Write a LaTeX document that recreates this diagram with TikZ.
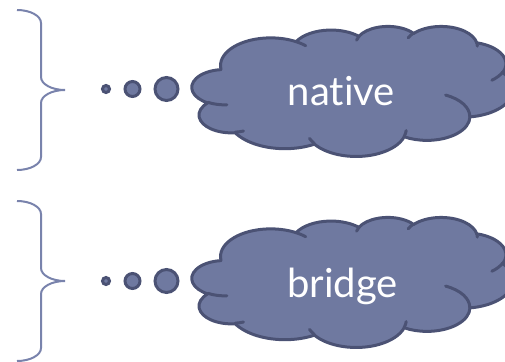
\documentclass[tikz,border=0pt]{standalone}
\usepackage{fontspec}
\setmainfont{Lato}[Ligatures={NoCommon,NoRare,NoContextual}]

\definecolor{cloudfill}{HTML}{6F79A0}
\definecolor{cloudline}{HTML}{4B5274}
\definecolor{braceline}{HTML}{7983AC}

% Convert an arc given by visual start angle and sweep on an ellipse
% (wR, hR) into parametric start/end angles for TikZ's arc operation.
\newcommand\cldang[6]{%
  \pgfmathsetmacro#1{atan2((#3)*sin(#5),(#4)*cos(#5))}%
  \pgfmathsetmacro#2{atan2((#3)*sin((#5)+(#6)),(#4)*cos((#5)+(#6)))}%
  \pgfmathsetmacro#2{(#2)+360*ceil(((#1)-(#2))/360)}%
}
% outline arcs
\cldang\cloAs\cloAe{6.753}{9.190}{-190.4875}{123.7805}
\cldang\cloBs\cloBe{5.333}{7.267}{-144.1024}{89.9452}
\cldang\cloCs\cloCe{4.365}{5.945}{-145.8079}{99.7230}
\cldang\cloDs\cloDe{4.857}{6.595}{-130.9861}{117.2417}
\cldang\cloEs\cloEe{5.333}{7.273}{-78.7089}{109.0269}
\cldang\cloFs\cloFe{6.775}{9.220}{-46.2673}{130.2690}
\cldang\cloGs\cloGe{5.785}{7.867}{0.6250}{114.0333}
\cldang\cloHs\cloHe{6.752}{9.215}{22.4516}{115.1726}
\cldang\cloIs\cloIe{7.720}{10.543}{66.2426}{75.7110}
\cldang\cloJs\cloJe{4.360}{5.918}{-274.9421}{146.7356}
\cldang\cloKs\cloKe{4.345}{5.945}{-246.8285}{152.5189}
% inner creases
\cldang\cliAs\cliAe{4.345}{5.945}{86.7420}{26.4295}
\cldang\cliBs\cliBe{4.360}{5.918}{73.6105}{11.4475}
\cldang\cliCs\cliCe{6.752}{9.215}{137.6242}{14.0811}
\cldang\cliDs\cliDe{6.752}{9.215}{6.4533}{15.9984}
\cldang\cliEs\cliEe{5.785}{7.867}{-70.2924}{70.9174}
\cldang\cliFs\cliFe{5.333}{7.273}{30.3180}{27.7515}
\cldang\cliGs\cliGe{4.857}{6.595}{-13.7443}{14.8589}
\cldang\cliHs\cliHe{4.857}{6.595}{-149.1815}{18.1954}
\cldang\cliIs\cliIe{4.365}{5.945}{-163.4943}{17.6864}
\cldang\cliJs\cliJe{6.753}{9.190}{-66.7070}{12.3194}

\newcommand\cldarc[4]{arc[start angle=#1,end angle=#2,x radius=#3,y radius=#4]}

% cloud drawn in a 43.2 x 43.2 box
\newcommand\drawcloud{%
  \filldraw[cloudbody]
    (3.900,14.370) \cldarc{\cloAs}{\cloAe}{6.753}{9.190}
    \cldarc{\cloBs}{\cloBe}{5.333}{7.267}
    \cldarc{\cloCs}{\cloCe}{4.365}{5.945}
    \cldarc{\cloDs}{\cloDe}{4.857}{6.595}
    \cldarc{\cloEs}{\cloEe}{5.333}{7.273}
    \cldarc{\cloFs}{\cloFe}{6.775}{9.220}
    \cldarc{\cloGs}{\cloGe}{5.785}{7.867}
    \cldarc{\cloHs}{\cloHe}{6.752}{9.215}
    \cldarc{\cloIs}{\cloIe}{7.720}{10.543}
    \cldarc{\cloJs}{\cloJe}{4.360}{5.918}
    \cldarc{\cloKs}{\cloKe}{4.345}{5.945} -- cycle;
  \draw[cloudcrease]
    (4.693,26.177) \cldarc{\cliAs}{\cliAe}{4.345}{5.945}
    (6.928,34.899) \cldarc{\cliBs}{\cliBe}{4.360}{5.918}
    (16.478,39.090) \cldarc{\cliCs}{\cliCe}{6.752}{9.215}
    (28.827,34.751) \cldarc{\cliDs}{\cliDe}{6.752}{9.215}
    (34.129,22.954) \cldarc{\cliEs}{\cliEe}{5.785}{7.867}
    (41.798,15.354) \cldarc{\cliFs}{\cliFe}{5.333}{7.273}
    (38.324,5.426) \cldarc{\cliGs}{\cliGe}{4.857}{6.595}
    (29.078,3.952) \cldarc{\cliHs}{\cliHe}{4.857}{6.595}
    (22.141,4.720) \cldarc{\cliIs}{\cliIe}{4.365}{5.945}
    (14.000,5.192) \cldarc{\cliJs}{\cliJe}{6.753}{9.190};
}

% right curly brace: top end at (#1,#2), half height #3
\newcommand\drawbrace[3]{%
  \draw[bracestroke] (#1,#2) \cldarc{-90}{0}{24}{13}
    -- ++(0,#3-26) \cldarc{180}{90}{24}{13}
    \cldarc{-90}{-180}{24}{13} -- ++(0,#3-26) \cldarc{0}{90}{24}{13};
}

\begin{document}
\begin{tikzpicture}[x=1pt,y=-1pt,
    cloudbody/.style={fill=cloudfill,draw=cloudline,line width=3pt,line join=round},
    cloudcrease/.style={draw=cloudline,line width=3pt,line cap=round},
    bracestroke/.style={draw=braceline,line width=2pt},
    bubble/.style={circle,fill=cloudfill,draw=cloudline,line width=3pt,inner sep=0pt},
    label/.style={text=white,font=\fontsize{40}{48}\selectfont,anchor=base,inner sep=0pt}]
  \useasboundingbox (0,0) rectangle (505,361);
  \clip (0,0) rectangle (505,361);

  % braces
  \drawbrace{17}{10}{80}
  \drawbrace{17}{201}{80}

  % thought bubbles, upper row
  \node[bubble,minimum size=7pt]  (s1) at (106,89) {};
  \node[bubble,minimum size=15pt] (m1) at (132.5,89) {};
  \node[bubble,minimum size=23pt] (l1) at (166.5,89) {};
  % thought bubbles, lower row
  \node[bubble,minimum size=7pt]  (s2) at (106,281) {};
  \node[bubble,minimum size=15pt] (m2) at (132.5,281) {};
  \node[bubble,minimum size=23pt] (l2) at (166.5,281) {};

  % clouds
  \begin{scope}[shift={(192,26)},x=7.4306pt,y=-3.0093pt]
    \drawcloud
  \end{scope}
  \begin{scope}[shift={(192,217)},x=7.4306pt,y=-3.0093pt]
    \drawcloud
  \end{scope}

  \node[label] (native) at (341.5,105) {native};
  \node[label] (bridge) at (342.5,297) {bridge};
\end{tikzpicture}
\end{document}
